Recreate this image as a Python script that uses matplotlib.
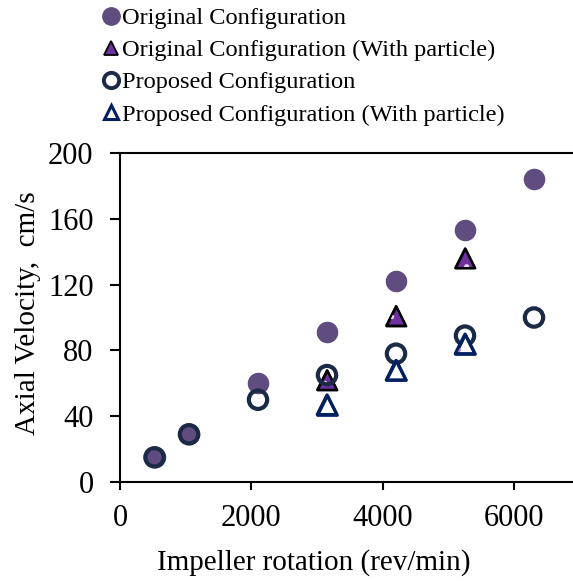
import matplotlib
matplotlib.use("Agg")
import matplotlib.pyplot as plt
from matplotlib.lines import Line2D

plt.rcParams['font.family'] = ['Liberation Serif', 'DejaVu Serif']
plt.rcParams['hatch.linewidth'] = 1.2

# Data
rpm_all = [525, 1050, 2100, 3150, 4200, 5250, 6300]
rpm_particle = [3150, 4200, 5250]
orig_vel = [15, 29, 60, 91, 122, 153, 184]
orig_particle_vel = [62, 101, 136]
prop_vel = [15, 29, 50, 65, 78, 89, 100]
prop_particle_vel = [47, 68, 84]

labels = ["Original Configuration",
          "Original Configuration (With particle)",
          "Proposed Configuration",
          "Proposed Configuration (With particle)"]
x_ticks = [0, 2000, 4000, 6000]
y_ticks = [0, 40, 80, 120, 160, 200]

c_orig = "#604C7F"
c_orig_tri = "#7030A0"
c_prop = "#1B2A47"
c_prop_tri = "#002060"

W, H = 573, 582
fig = plt.figure(figsize=(W / 100, H / 100), dpi=100)
ax = fig.add_axes([120 / W, 1 - 482 / H, 460 / W, 329 / H])

ax.scatter(rpm_all, orig_vel, s=210, marker='o', color=c_orig, zorder=3)
# original with particle: fill, white dots, black edge
ax.scatter(rpm_particle, orig_particle_vel, s=200, marker='^', facecolor=c_orig_tri,
           edgecolor='black', linewidths=1.6, zorder=4)
ax.scatter(rpm_particle, orig_particle_vel, s=200, marker='^', facecolor='none',
           edgecolor='#E8DDF5', linewidths=0, hatch='.', zorder=4)
ax.scatter(rpm_particle, orig_particle_vel, s=200, marker='^', facecolor='none',
           edgecolor='black', linewidths=1.6, zorder=4)
ax.scatter(rpm_all, prop_vel, s=175, marker='o', facecolor='none',
           edgecolor=c_prop, linewidths=3.0, zorder=5)
ax.scatter(rpm_particle, prop_particle_vel, s=200, marker='^', facecolor='white',
           edgecolor=c_prop_tri, linewidths=2.2, zorder=6)
ax.scatter(rpm_particle, prop_particle_vel, s=200, marker='^', facecolor='none',
           edgecolor='#A27FD0', linewidths=0, hatch='.', zorder=6)
ax.scatter(rpm_particle, prop_particle_vel, s=200, marker='^', facecolor='none',
           edgecolor=c_prop_tri, linewidths=2.2, zorder=6)

ax.set_xlim(0, 7000)
ax.set_ylim(0, 200)
ax.set_xticks(x_ticks)
ax.set_yticks(y_ticks)
ax.tick_params(axis='both', direction='out', labelsize=22, width=1.5, colors='black')
ax.tick_params(axis='y', length=7, pad=12)
ax.tick_params(axis='x', length=6, pad=10)
for side in ['left', 'bottom', 'top']:
    ax.spines[side].set_linewidth(1.5)
ax.spines['right'].set_visible(False)

fig.text(28 / W, 1 - 313 / H, "Axial Velocity,  cm/s", rotation=90,
         ha='center', va='center', fontsize=21)
fig.text(314 / W, 1 - 563 / H, "Impeller rotation (rev/min)",
         ha='center', va='center', fontsize=21)

handles = [
    Line2D([], [], ls='none', marker='o', markersize=12.5, color=c_orig),
    Line2D([], [], ls='none', marker='^', markersize=9.5, markerfacecolor=c_orig_tri,
           markeredgecolor='black', markeredgewidth=1.3),
    Line2D([], [], ls='none', marker='o', markersize=11, markerfacecolor='none',
           markeredgecolor=c_prop, markeredgewidth=2.8),
    Line2D([], [], ls='none', marker='^', markersize=9.5, markerfacecolor='white',
           markeredgecolor=c_prop_tri, markeredgewidth=2.2),
]
fig.legend(handles, labels, loc='upper left', bbox_to_anchor=(104 / W, 1 - 7 / H),
           frameon=False, fontsize=17.6, handlelength=0.6, handletextpad=0.15,
           borderpad=0, borderaxespad=0, labelspacing=0.41)

fig.savefig("out.png", dpi=100)
